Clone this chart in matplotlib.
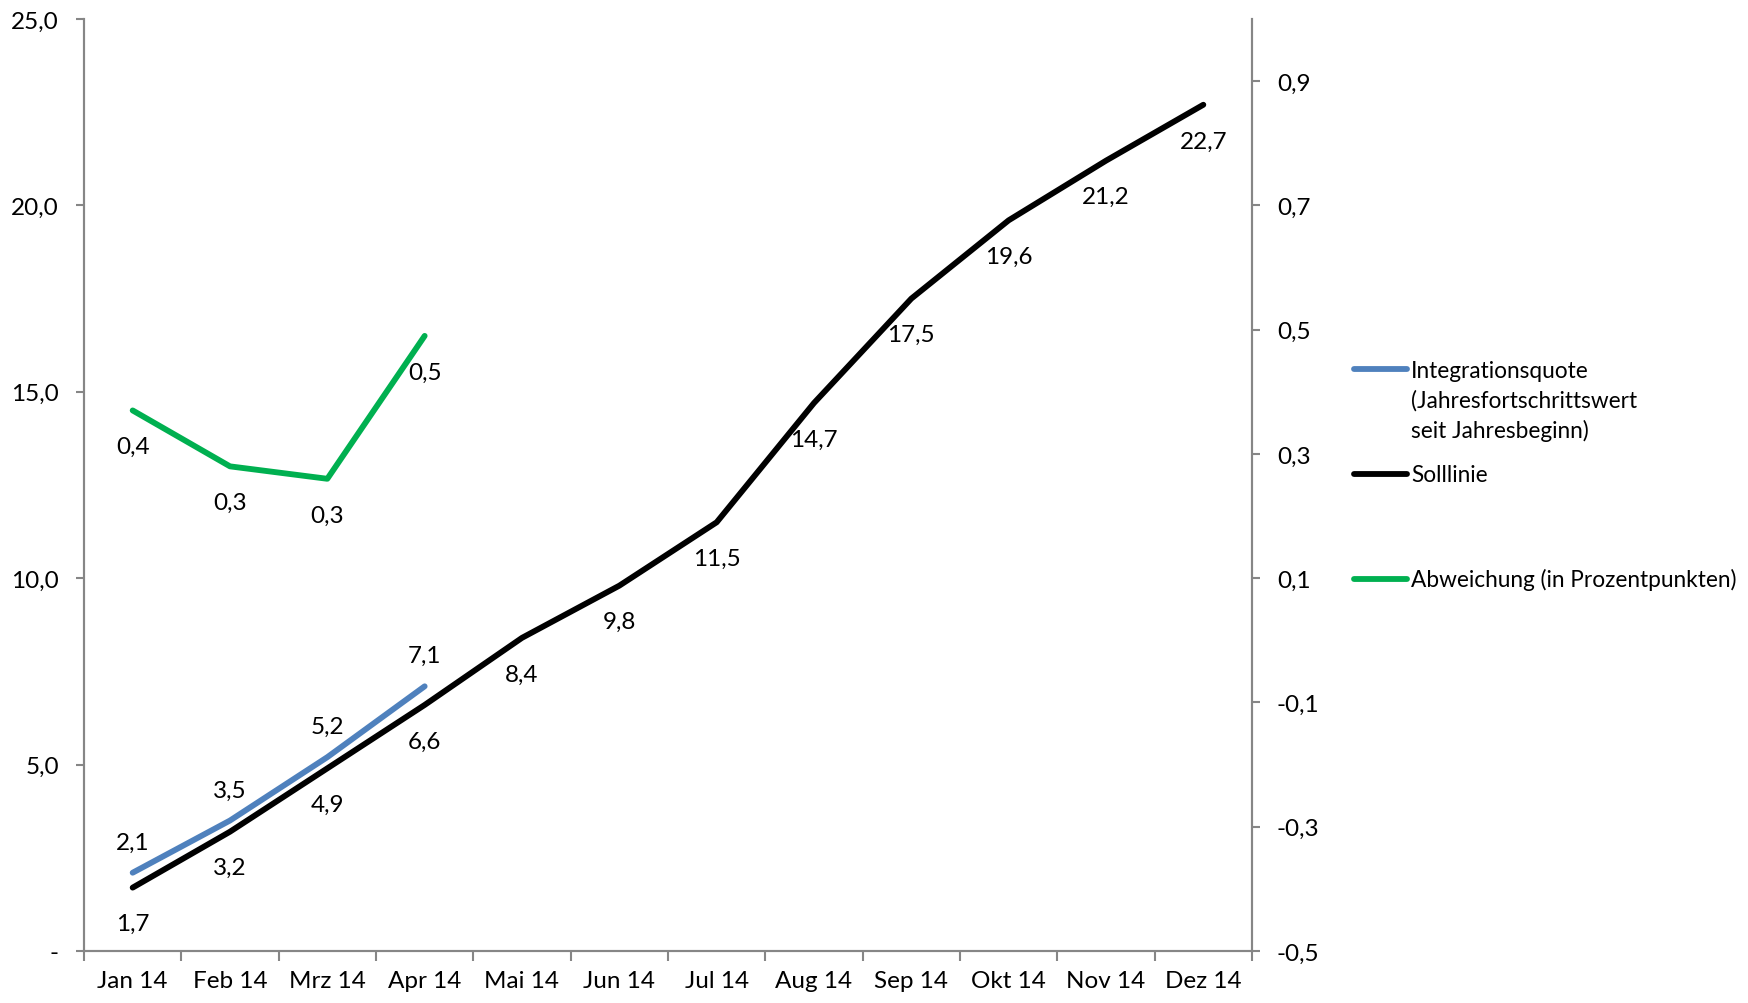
import matplotlib
matplotlib.use("Agg")
import matplotlib.pyplot as plt
from matplotlib.lines import Line2D
from matplotlib.ticker import FixedLocator, FuncFormatter

months = ["Jan 14", "Feb 14", "Mrz 14", "Apr 14", "Mai 14", "Jun 14", "Jul 14",
          "Aug 14", "Sep 14", "Okt 14", "Nov 14", "Dez 14"]
integrationsquote = [2.1, 3.5, 5.2, 7.1]
solllinie = [1.7, 3.2, 4.9, 6.6, 8.4, 9.8, 11.5, 14.7, 17.5, 19.6, 21.2, 22.7]
abweichung = [0.37, 0.28, 0.26, 0.49]
left_ticks = [0, 5, 10, 15, 20, 25]
right_ticks = [-0.5, -0.3, -0.1, 0.1, 0.3, 0.5, 0.7, 0.9]

FONT = "Lato"
FS = 17.5
LFS = 16.3
plt.rcParams['font.family'] = [FONT, 'DejaVu Sans']

fig = plt.figure(figsize=(17.49, 10.04), dpi=100)
ax = fig.add_axes([84/1749, 1-952/1004, (1252-84)/1749, (952-20)/1004])
ax2 = ax.twinx()

gray = "#868686"
blue = "#4F81BD"
green = "#00B050"

def de(v, d=1):
    return f"{v:.{d}f}".replace(".", ",")

x = list(range(len(months)))
ax.set_xlim(-0.5, len(months) - 0.5)
ax.set_ylim(0, 25)
ax2.set_ylim(-0.5, 1.0)

ax.plot(x, solllinie, color="black", lw=4.2, solid_capstyle="round", zorder=3)
ax.plot(x[:len(integrationsquote)], integrationsquote, color=blue, lw=4.2,
        solid_capstyle="round", zorder=2)
ax2.plot(x[:len(abweichung)], abweichung, color=green, lw=4.2, solid_capstyle="round")

for i, v in enumerate(solllinie):
    ax.annotate(de(v), (i, v), xytext=(0, -26), textcoords="offset points",
                ha="center", va="center", fontsize=FS)
for i, v in enumerate(integrationsquote):
    ax.annotate(de(v), (i, v), xytext=(0, 22), textcoords="offset points",
                ha="center", va="center", fontsize=FS)
for i, v in enumerate(abweichung):
    ax2.annotate(de(v), (i, v), xytext=(0, -26), textcoords="offset points",
                 ha="center", va="center", fontsize=FS)

for a in (ax, ax2):
    a.spines["top"].set_visible(False)
    for s in ("left", "right", "bottom"):
        a.spines[s].set_color(gray)
        a.spines[s].set_linewidth(1.5)

ax.set_yticks(left_ticks)
ax.yaxis.set_major_formatter(FuncFormatter(lambda v, p: "-" if v == 0 else de(v)))
ax.tick_params(axis="y", length=6, width=1.5, color=gray, labelsize=FS, pad=12)

ax2.set_yticks(right_ticks)
ax2.yaxis.set_major_formatter(FuncFormatter(lambda v, p: de(v)))
ax2.tick_params(axis="y", length=6, width=1.5, color=gray, labelsize=FS, pad=12)

ax.set_xticks(x)
ax.set_xticklabels(months)
ax.xaxis.set_minor_locator(FixedLocator([i - 0.5 for i in range(len(months) + 1)]))
ax.tick_params(axis="x", which="major", length=0, labelsize=FS, pad=14)
ax.tick_params(axis="x", which="minor", length=7, width=1.5, color=gray)

leg_items = [
    (blue, "Integrationsquote\n(Jahresfortschrittswert\nseit Jahresbeginn)", 370),
    ("black", "Solllinie", 475),
    (green, "Abweichung (in Prozentpunkten)", 580),
]
for col, txt, ypx in leg_items:
    yf = 1 - ypx / 1004
    fig.add_artist(Line2D([1354/1749, 1407/1749], [yf, yf], color=col, lw=4.2,
                          solid_capstyle="round"))
    if "\n" in txt:
        fig.text(1411/1749, yf + 9/1004, txt, fontsize=LFS, va="top", ha="left",
                 linespacing=1.45)
    else:
        fig.text(1411/1749, yf, txt, fontsize=LFS, va="center", ha="left")

fig.savefig("out.png", dpi=100)
